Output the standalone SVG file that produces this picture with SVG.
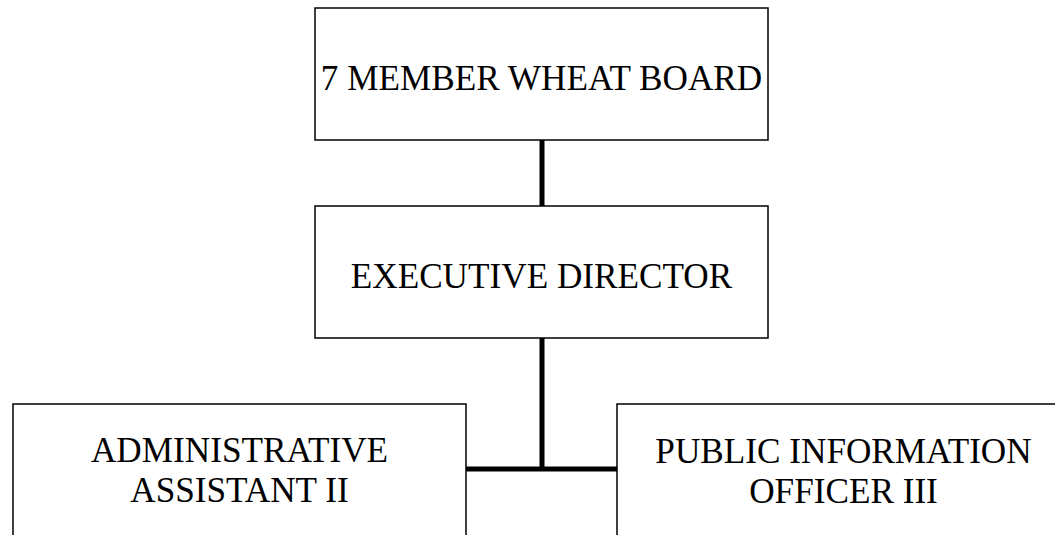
<svg xmlns="http://www.w3.org/2000/svg" width="1055" height="535" viewBox="0 0 1055 535">
  <style>
    .box { fill: #ffffff; stroke: #000000; stroke-width: 1.5; }
    .label { font-family: "Liberation Serif", "Times New Roman", serif; font-size: 35.2px; fill: #000000; text-anchor: middle; }
    .link { fill: none; stroke: #000000; stroke-width: 5; stroke-linecap: butt; }
  </style>
  <rect width="1055" height="535" fill="#ffffff"/>

  <!-- connectors -->
  <g id="connectors">
    <line class="link" x1="542" y1="140" x2="542" y2="206"/>
    <line class="link" x1="542" y1="338" x2="542" y2="469"/>
    <line class="link" x1="466" y1="469" x2="617" y2="469"/>
  </g>

  <g id="board">
    <rect class="box" x="315" y="8" width="453" height="132"/>
    <text class="label" x="541.5" y="90">7 MEMBER WHEAT BOARD</text>
  </g>

  <g id="executive-director">
    <rect class="box" x="315" y="206" width="453" height="132"/>
    <text class="label" x="541.5" y="288">EXECUTIVE DIRECTOR</text>
  </g>

  <g id="admin-assistant">
    <rect class="box" x="13" y="404" width="453" height="132"/>
    <text class="label" x="239.5" y="462">ADMINISTRATIVE</text>
    <text class="label" x="239.5" y="502">ASSISTANT II</text>
  </g>

  <g id="public-information-officer">
    <rect class="box" x="617" y="404" width="453" height="132"/>
    <text class="label" x="843.5" y="463">PUBLIC INFORMATION</text>
    <text class="label" x="843.5" y="503">OFFICER III</text>
  </g>
</svg>
